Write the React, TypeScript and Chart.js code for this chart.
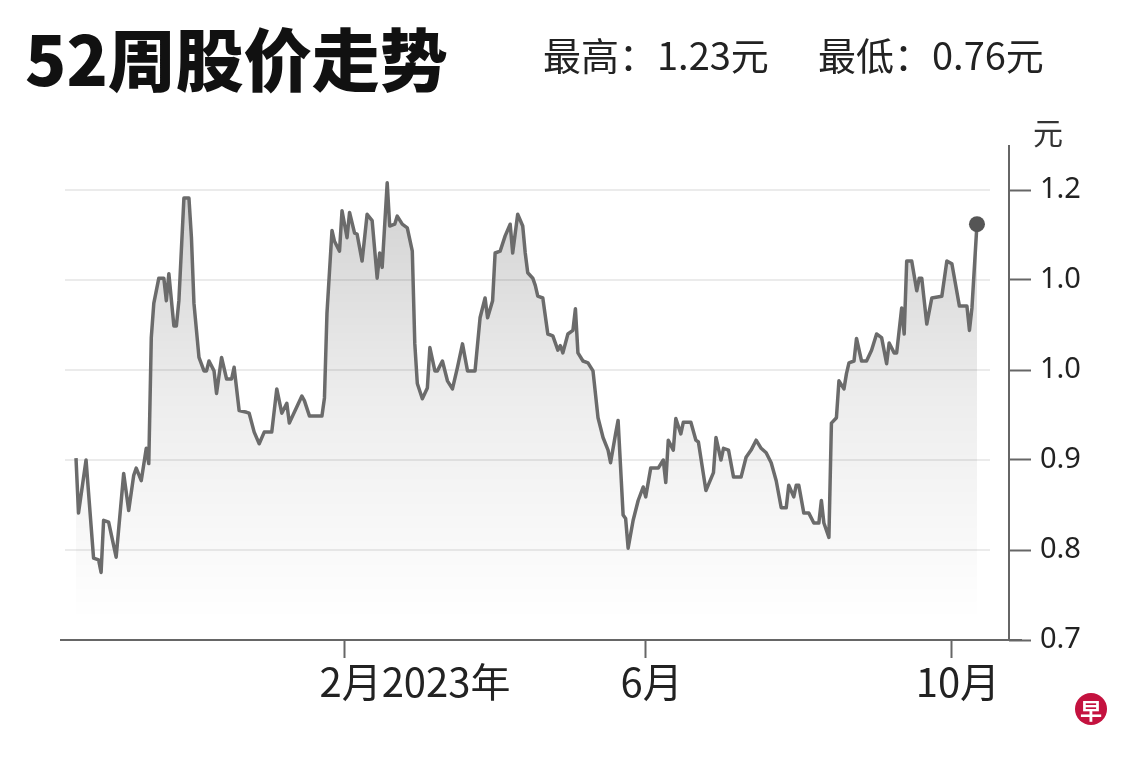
import React, { useEffect, useRef } from 'react';
import { Chart, registerables } from 'chart.js';

Chart.register(...registerables);

// Days since 2022-10-17 (calendar days)
const days = [
  0, 1, 4, 7, 9, 10, 11, 13, 16, 19, 21, 23, 24, 26, 28, 29, 30, 31, 33, 35,
  36, 37, 39, 40, 41, 43, 45, 46, 47, 49, 51, 52, 53, 55, 56, 58, 60, 62, 63, 65,
  68, 69, 71, 73, 75, 78, 80, 82, 84, 85, 90, 91, 93, 98, 99, 100, 102, 103, 105, 106,
  108, 109, 111, 112, 114, 116, 118, 120, 121, 122, 124, 125, 127, 128, 130, 132, 134, 135, 136, 138,
  140, 141, 143, 144, 146, 148, 150, 152, 154, 156, 159, 161, 163, 164, 166, 167, 169, 171, 173, 174,
  176, 178, 179, 180, 182, 183, 184, 186, 188, 190, 192, 193, 194, 196, 198, 199, 200, 202, 204, 206,
  208, 210, 212, 213, 215, 216, 218, 219, 220, 222, 224, 226, 227, 229, 232, 234, 235, 236, 238, 239,
  241, 242, 245, 247, 248, 251, 254, 255, 257, 258, 260, 262, 265, 267, 269, 271, 273, 275, 277, 279,
  281, 283, 284, 286, 287, 288, 290, 292, 294, 296, 297, 298, 300, 301, 303, 304, 306, 307, 308, 310,
  311, 313, 315, 317, 319, 321, 323, 324, 326, 327, 329, 330, 331, 333, 335, 336, 337, 339, 341, 345,
  347, 349, 352, 355, 356, 357, 359,
];

const prices = [
  0.902, 0.841, 0.900, 0.791, 0.789, 0.775, 0.833, 0.831, 0.792, 0.885, 0.844, 0.883, 0.891, 0.877, 0.913, 0.896, 1.036, 1.074, 1.102, 1.102,
  1.077, 1.107, 1.049, 1.049, 1.077, 1.191, 1.191, 1.147, 1.074, 1.014, 0.999, 0.999, 1.010, 0.999, 0.974, 1.014, 0.990, 0.990, 1.003, 0.955,
  0.953, 0.952, 0.931, 0.918, 0.931, 0.931, 0.979, 0.952, 0.963, 0.941, 0.971, 0.966, 0.949, 0.949, 0.969, 1.063, 1.155, 1.143, 1.132, 1.177,
  1.147, 1.175, 1.152, 1.151, 1.121, 1.173, 1.166, 1.102, 1.130, 1.114, 1.208, 1.160, 1.162, 1.171, 1.162, 1.158, 1.132, 1.029, 0.985, 0.968,
  0.980, 1.025, 0.999, 0.999, 1.010, 0.988, 0.979, 1.003, 1.029, 0.999, 0.999, 1.058, 1.080, 1.058, 1.077, 1.130, 1.132, 1.149, 1.162, 1.130,
  1.173, 1.160, 1.130, 1.108, 1.102, 1.094, 1.082, 1.080, 1.040, 1.038, 1.022, 1.027, 1.019, 1.040, 1.044, 1.068, 1.019, 1.010, 1.008, 0.999,
  0.947, 0.925, 0.911, 0.897, 0.929, 0.944, 0.839, 0.835, 0.802, 0.833, 0.855, 0.870, 0.859, 0.891, 0.891, 0.900, 0.875, 0.922, 0.911, 0.946,
  0.929, 0.942, 0.942, 0.922, 0.920, 0.866, 0.886, 0.925, 0.900, 0.913, 0.911, 0.881, 0.881, 0.903, 0.911, 0.922, 0.913, 0.908, 0.897, 0.877,
  0.847, 0.847, 0.872, 0.859, 0.872, 0.872, 0.841, 0.841, 0.830, 0.830, 0.855, 0.830, 0.814, 0.941, 0.947, 0.988, 0.979, 0.996, 1.008, 1.010,
  1.035, 1.010, 1.010, 1.022, 1.040, 1.036, 1.007, 1.030, 1.019, 1.019, 1.069, 1.040, 1.121, 1.121, 1.088, 1.102, 1.102, 1.051, 1.080, 1.082,
  1.121, 1.118, 1.071, 1.071, 1.044, 1.069, 1.162,
];

const yTickValues = [0.7, 0.8, 0.9, 1.0, 1.1, 1.2];
const yTickLabels = ['0.7', '0.8', '0.9', '1.0', '1.0', '1.2'];
const xTickDays = [107, 227, 349];
const xTickLabels = ['2月2023年', '6月', '10月'];

const titleText = '52周股价走势';
const highText = '最高：1.23元';
const lowText = '最低：0.76元';
const unitText = '元';
const logoText = '早';

const customPlugin = {
  id: 'customDecor',
  beforeDatasetsDraw(chart: any) {
    const { ctx, chartArea, scales } = chart;
    ctx.save();
    ctx.strokeStyle = '#ebebeb';
    ctx.lineWidth = 2;
    yTickValues.slice(1).forEach((v) => {
      const py = Math.round(scales.y.getPixelForValue(v));
      ctx.beginPath();
      ctx.moveTo(chartArea.left + 5, py);
      ctx.lineTo(chartArea.right - 19, py);
      ctx.stroke();
    });
    ctx.restore();
  },
  afterDraw(chart: any) {
    const { ctx, chartArea, scales } = chart;
    ctx.save();
    ctx.strokeStyle = '#666';
    ctx.lineWidth = 2;
    ctx.beginPath();
    ctx.moveTo(chartArea.left, chartArea.bottom);
    ctx.lineTo(chartArea.right + 13, chartArea.bottom);
    ctx.moveTo(chartArea.right, chartArea.top);
    ctx.lineTo(chartArea.right, chartArea.bottom);
    ctx.stroke();

    ctx.font = '40px "Liberation Sans Narrow", "Noto Sans CJK SC", sans-serif';
    ctx.fillStyle = '#222';
    ctx.textBaseline = 'alphabetic';
    ctx.textAlign = 'left';
    xTickDays.forEach((d, i) => {
      const label = xTickLabels[i];
      const monthEnd = label.indexOf('月') + 1;
      const w = ctx.measureText(label.slice(0, monthEnd)).width;
      const px = scales.x.getPixelForValue(d);
      ctx.fillText(label, px - w / 2 + 6, chartArea.bottom + 57);
    });
    ctx.restore();
  },
};

export default function App() {
  const canvasRef = useRef<HTMLCanvasElement | null>(null);

  useEffect(() => {
    const canvas = canvasRef.current;
    if (!canvas) return;
    const data = days.map((d, i) => ({ x: d, y: prices[i] }));
    const lastIndex = data.length - 1;

    const chart = new Chart(canvas, {
      type: 'line',
      data: {
        datasets: [
          {
            data,
            borderColor: '#6b6b6b',
            borderWidth: 3.5,
            borderJoinStyle: 'round',
            tension: 0,
            fill: 'start',
            backgroundColor: (context: any) => {
              const { chart: c } = context;
              const area = c.chartArea;
              if (!area) return 'rgba(0,0,0,0.1)';
              const g = c.ctx.createLinearGradient(0, 180, 0, 620);
              g.addColorStop(0, 'rgba(0,0,0,0.18)');
              g.addColorStop(0.5, 'rgba(0,0,0,0.07)');
              g.addColorStop(1, 'rgba(0,0,0,0)');
              return g;
            },
            pointRadius: data.map((_, i) => (i === lastIndex ? 8 : 0)),
            pointBackgroundColor: '#555',
            pointBorderColor: '#555',
            pointBorderWidth: 0,
          },
        ],
      },
      options: {
        responsive: false,
        animation: false,
        events: [],
        layout: { padding: { left: 60, top: 145, right: 0, bottom: 0 } },
        plugins: {
          legend: { display: false },
          tooltip: { enabled: false },
        },
        scales: {
          x: {
            type: 'linear',
            min: -6.375,
            max: 371.76,
            border: { display: false },
            grid: {
              drawOnChartArea: false,
              drawTicks: true,
              tickLength: 18,
              tickColor: '#666',
              tickWidth: 2,
            },
            ticks: { callback: () => '', autoSkip: false, maxRotation: 0 },
            afterBuildTicks: (s: any) => {
              s.ticks = xTickDays.map((v) => ({ value: v }));
            },
            afterFit: (s: any) => {
              s.height = 120;
            },
          },
          y: {
            position: 'right',
            min: 0.7,
            max: 1.25,
            border: { display: false },
            grid: {
              drawOnChartArea: false,
              drawTicks: true,
              tickLength: 22,
              tickColor: '#666',
              tickWidth: 2,
            },
            ticks: {
              padding: 9,
              color: '#222',
              font: { family: '"Noto Sans", sans-serif', size: 29 },
              callback: (v: any) => {
                const idx = yTickValues.findIndex((t) => Math.abs(t - Number(v)) < 1e-6);
                return idx >= 0 ? yTickLabels[idx] : '';
              },
            },
            afterBuildTicks: (s: any) => {
              s.ticks = yTickValues.map((v) => ({ value: v }));
            },
            afterFit: (s: any) => {
              s.width = 131;
            },
          },
        },
      },
      plugins: [customPlugin],
    } as any);

    return () => chart.destroy();
  }, []);

  const subStyle: React.CSSProperties = {
    position: 'absolute',
    top: 35,
    fontFamily: '"Noto Sans CJK SC", sans-serif',
    fontSize: 38,
    lineHeight: '38px',
    color: '#222',
    whiteSpace: 'nowrap',
  };

  return (
    <div
      style={{
        position: 'absolute',
        left: 0,
        top: 0,
        width: 1140,
        height: 760,
        background: '#fff',
        overflow: 'hidden',
      }}
    >
      <canvas
        ref={canvasRef}
        width={1140}
        height={760}
        style={{ position: 'absolute', left: 0, top: 0, width: 1140, height: 760 }}
      />
      <div
        style={{
          position: 'absolute',
          left: 25,
          top: 23,
          fontFamily: '"Noto Sans CJK SC", sans-serif',
          fontWeight: 900,
          fontSize: 68,
          lineHeight: '68px',
          color: '#111',
          whiteSpace: 'nowrap',
        }}
      >
        {titleText}
      </div>
      <div style={{ ...subStyle, left: 543 }}>{highText}</div>
      <div style={{ ...subStyle, left: 818 }}>{lowText}</div>
      <div
        style={{
          position: 'absolute',
          left: 1033,
          top: 116,
          fontFamily: '"Noto Sans CJK SC", sans-serif',
          fontSize: 30,
          lineHeight: '30px',
          color: '#333',
        }}
      >
        {unitText}
      </div>
      <div
        style={{
          position: 'absolute',
          left: 1075,
          top: 693,
          width: 32,
          height: 32,
          borderRadius: '50%',
          background: '#c4123f',
          color: '#fff',
          fontFamily: '"Noto Sans CJK SC", sans-serif',
          fontWeight: 700,
          fontSize: 22,
          lineHeight: '32px',
          textAlign: 'center',
        }}
      >
        {logoText}
      </div>
    </div>
  );
}
